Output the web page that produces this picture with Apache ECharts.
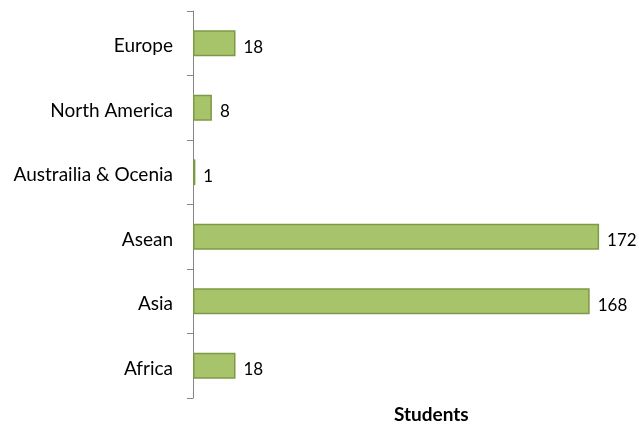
<!DOCTYPE html>
<html>
<head>
<meta charset="utf-8">
<script src="https://cdn.jsdelivr.net/npm/echarts@6/dist/echarts.min.js"></script>
<style>
body{margin:0;background:#fff;}
#chart{width:639px;height:425px;}
</style>
</head>
<body>
<div id="chart"></div>
<script>
// regions, top to bottom as drawn
var regions = ['Europe', 'North America', 'Austrailia & Ocenia', 'Asean', 'Asia', 'Africa'];
// students per region
var students = [18, 8, 1, 172, 168, 18];

var chart = echarts.init(document.getElementById('chart'));
chart.setOption({
  backgroundColor: '#fff',
  animation: false,
  title: {
    text: 'Students',
    left: 389,
    top: 400,
    textStyle: {fontFamily: 'Lato', fontSize: 19, fontWeight: 'bold', color: '#000'}
  },
  grid: {left: 193, top: 11, width: 425, height: 387, containLabel: false},
  xAxis: {
    type: 'value',
    min: 0,
    max: 180,
    show: false
  },
  yAxis: {
    type: 'category',
    inverse: true,
    data: regions,
    axisLine: {lineStyle: {color: '#868686', width: 1}},
    axisTick: {show: true, inside: false, length: 6, lineStyle: {color: '#868686'}},
    // nudge labels a little below the band centre, like the original
    axisLabel: {margin: 20, color: '#000', fontSize: 19, fontFamily: 'Lato', verticalAlign: 'top', lineHeight: 6},
    splitLine: {show: false}
  },
  series: [{
    type: 'bar',
    data: students,
    barWidth: '40%',
    itemStyle: {color: '#a8c46b', borderColor: '#7d9946', borderWidth: 1.5},
    label: {show: true, position: 'right', distance: 8, color: '#000', fontSize: 17, fontFamily: 'Lato', verticalAlign: 'top', lineHeight: 8}
  }]
});
</script>
</body>
</html>
